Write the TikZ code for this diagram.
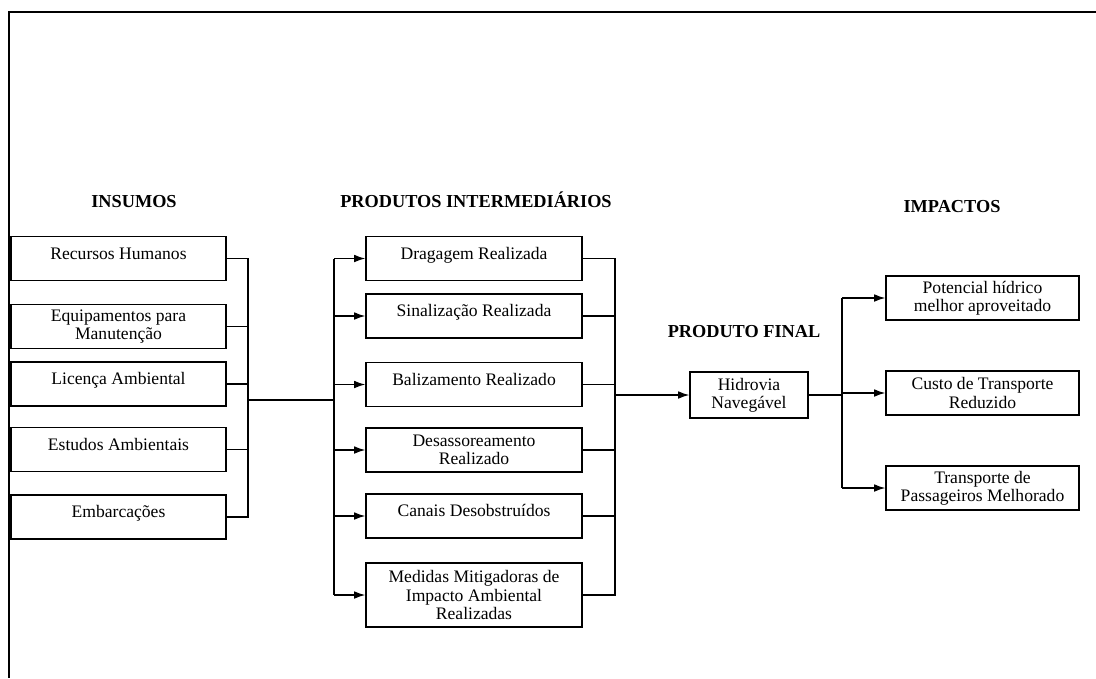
\documentclass[tikz,border=0pt]{standalone}
\usepackage{fontspec}
\setmainfont{Liberation Serif}
\usetikzlibrary{arrows.meta}

\tikzset{
    caixa/.style={draw, line width=1pt, inner sep=0pt, minimum height=1.1cm,
        align=center, font=\fontsize{12.5}{13}\selectfont},
    umalinha/.style={text height=16pt, text depth=15pt},
    titulo/.style={font=\fontsize{13}{14}\selectfont\bfseries},
    liga/.style={line width=0.85pt},
    seta/.style={liga, -{Latex[length=8pt,width=5.5pt]}},
}

\begin{document}
\begin{tikzpicture}[x=0.025cm, y=-0.025cm]

        \useasboundingbox (0,0) rectangle (1096,678);

        % moldura
        \draw[line width=1.6pt] (1096,12) -- (9,12) -- (9,678);

        % titulos
        \node[titulo] (tInsumos) at (134,202) {INSUMOS};
        \node[titulo] (tInter) at (476,200) {PRODUTOS INTERMEDIÁRIOS};
        \node[titulo] (tFinal) at (744,332) {PRODUTO FINAL};
        \node[titulo] (tImpactos) at (952,207) {IMPACTOS};

        % insumos
        \node[caixa, umalinha, minimum width=5.375cm] (ins1) at (118.5,258.5) {Recursos Humanos};
        \node[caixa, minimum width=5.375cm] (ins2) at (118.5,326.5) {Equipamentos para\\Manutenção};
        \node[caixa, umalinha, minimum width=5.375cm] (ins3) at (118.5,384) {Licença Ambiental};
        \node[caixa, umalinha, minimum width=5.375cm] (ins4) at (118.5,449.5) {Estudos Ambientais};
        \node[caixa, umalinha, minimum width=5.375cm] (ins5) at (118.5,517) {Embarcações};

        % produtos intermediarios
        \node[caixa, umalinha, minimum width=5.4cm] (prod1) at (474,258.5) {Dragagem Realizada};
        \node[caixa, umalinha, minimum width=5.4cm] (prod2) at (474,316) {Sinalização Realizada};
        \node[caixa, umalinha, minimum width=5.4cm] (prod3) at (474,384.5) {Balizamento Realizado};
        \node[caixa, minimum width=5.4cm] (prod4) at (474,450) {Desassoreamento\\Realizado};
        \node[caixa, umalinha, minimum width=5.4cm] (prod5) at (474,516) {Canais Desobstruídos};
        \node[caixa, minimum width=5.4cm, minimum height=1.6cm] (prod6) at (474,595)
            {Medidas Mitigadoras de\\Impacto Ambiental\\Realizadas};

        % produto final
        \node[caixa, minimum width=2.95cm, minimum height=1.15cm] (fin) at (749,395) {Hidrovia\\Navegável};

        % impactos
        \node[caixa, minimum width=4.825cm] (imp1) at (982.5,298) {Potencial hídrico\\melhor aproveitado};
        \node[caixa, minimum width=4.825cm] (imp2) at (982.5,393) {Custo de Transporte\\Reduzido};
        \node[caixa, minimum width=4.825cm] (imp3) at (982.5,488) {Transporte de\\Passageiros Melhorado};

        % barramentos
        \coordinate (busA) at (248,400);
        \coordinate (busB) at (334,400);
        \coordinate (busC) at (615,395);
        \coordinate (busD) at (842,395);

        % insumos -> produtos
        \draw[liga] (ins1.east) -- (ins1.east -| busA) -- (ins5.east -| busA) -- (ins5.east);
        \foreach \i in {2,3,4} {
            \draw[liga] (ins\i.east) -- (ins\i.east -| busA);
        }
        \draw[liga] (busA) -- (busB);
        \draw[liga] (prod1.west -| busB) -- (prod6.west -| busB);
        \foreach \i in {1,...,6} {
            \draw[seta] (prod\i.west -| busB) -- (prod\i.west);
        }

        % produtos -> produto final
        \draw[liga] (prod1.east) -- (prod1.east -| busC) -- (prod6.east -| busC) -- (prod6.east);
        \foreach \i in {2,...,5} {
            \draw[liga] (prod\i.east) -- (prod\i.east -| busC);
        }
        \draw[seta] (busC |- fin.west) -- (fin.west);

        % produto final -> impactos
        \draw[liga] (fin.east) -- (busD |- fin.east);
        \draw[liga] (busD |- imp1.west) -- (busD |- imp3.west);
        \foreach \i in {1,2,3} {
            \draw[seta] (busD |- imp\i.west) -- (imp\i.west);
        }

\end{tikzpicture}
\end{document}
